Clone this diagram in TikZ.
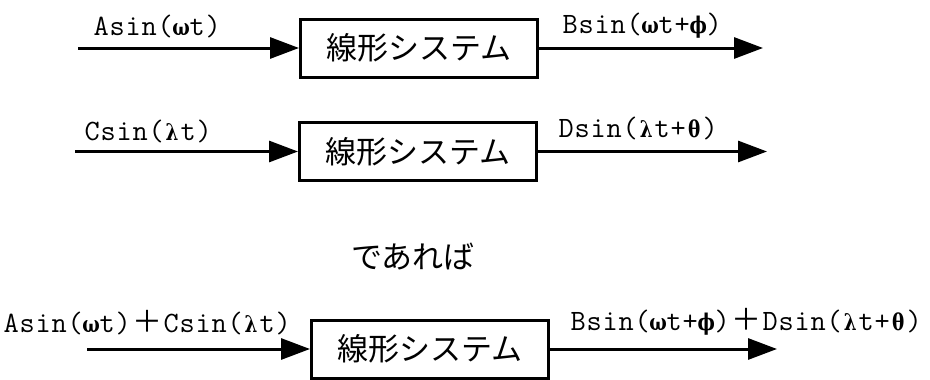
\documentclass[tikz,border=0pt]{standalone}
\usepackage{fontspec}
\newfontfamily\monolab{Latin Modern Mono}
\newfontfamily\jp{Noto Sans CJK JP}
\newfontfamily\gr{DejaVu Serif}
\usetikzlibrary{arrows.meta}
\newcommand{\grk}[1]{\scalebox{0.8}[1]{\gr\bfseries\fontsize{23}{23}\selectfont #1}}
\newcommand{\fw}{\jp\fontsize{30}{30}\selectfont ＋}
% each character in a cell of 16pt, a group {..} forms one cell
\def\cells#1{\cellsi#1\relax}
\def\cellsi#1{\ifx\relax#1\else\makebox[16pt][c]{#1}\expandafter\cellsi\fi}
\def\wide#1{\makebox[32pt][c]{#1}}
\tikzset{
  sysbox/.style={draw, line width=3pt, minimum width=237pt, minimum height=58pt, inner sep=0pt,
    font=\jp\fontsize{31}{31}\selectfont},
  sig/.style={line width=3pt, -{Triangle[length=29pt,width=21pt]}},
  lab/.style={anchor=base west, inner sep=0pt, font=\monolab\fontsize{29.5}{30}\selectfont},
  jlab/.style={anchor=base west, inner sep=0pt, font=\jp\fontsize{31}{31}\selectfont}
}
\begin{document}
\begin{tikzpicture}[x=1pt,y=-1pt]
\useasboundingbox (0,0) rectangle (930,380);
% row 1
\node[sysbox] (box1) at (419,48) {線形システム};
\coordinate (in1) at (78,48);
\coordinate (out1) at (763,48);
\draw[sig] (in1) -- (box1.west);
\draw[sig] (box1.east) -- (out1);
\node[lab] (l1) at (93,35) {\cells{Asin({\grk{ω}}t)}};
\node[lab] (l2) at (562,33) {\cells{Bsin({\grk{ω}}t+{\grk{ϕ}})}};
% row 2
\node[sysbox] (box2) at (418,151.5) {線形システム};
\coordinate (in2) at (75,151.5);
\coordinate (out2) at (767,151.5);
\draw[sig] (in2) -- (box2.west);
\draw[sig] (box2.east) -- (out2);
\node[lab] (l3) at (84,140) {\cells{Csin({\grk{λ}}t)}};
\node[lab] (l4) at (558,137) {\cells{Dsin({\grk{λ}}t+{\grk{θ}})}};
% middle text
\node[jlab] (mid) at (351,268) {であれば};
% row 3
\node[sysbox] (box3) at (430,349) {線形システム};
\coordinate (in3) at (87,349);
\coordinate (out3) at (777,349);
\draw[sig] (in3) -- (box3.west);
\draw[sig] (box3.east) -- (out3);
\node[lab] (l5) at (3,332) {\cells{Asin({\grk{ω}}t)}\wide{\fw}\cells{Csin({\grk{λ}}t)}};
\node[lab] (l6) at (570,330) {\cells{Bsin({\grk{ω}}t+{\grk{ϕ}})}\wide{\fw}\cells{Dsin({\grk{λ}}t+{\grk{θ}})}};
\end{tikzpicture}
\end{document}
